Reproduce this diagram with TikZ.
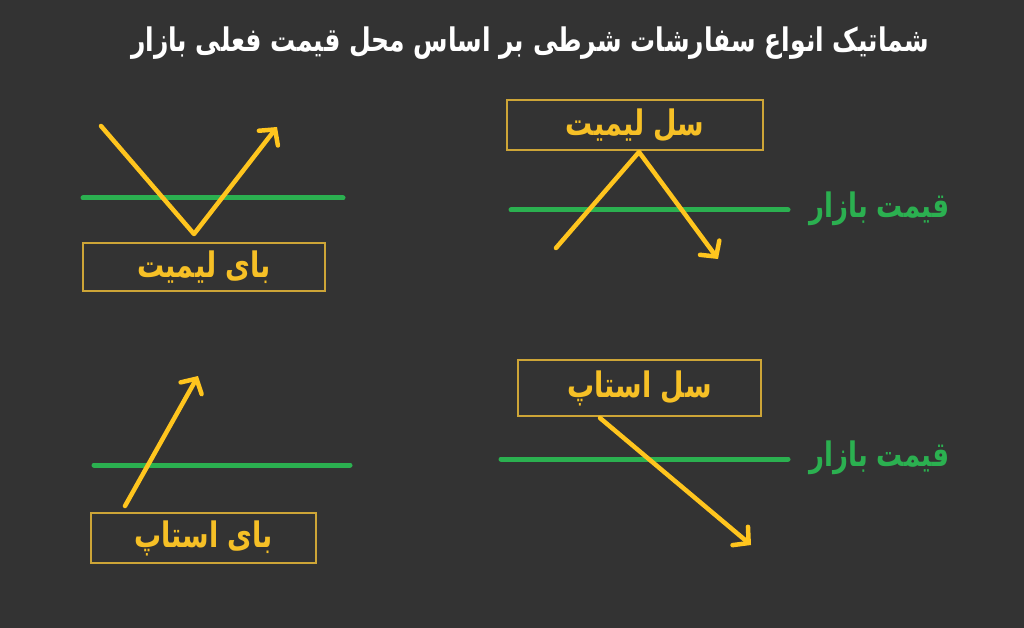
\documentclass[tikz,border=0pt]{standalone}
\usepackage{fontspec}
\usepackage{graphicx}
\usetikzlibrary{arrows.meta}
\TeXXeTstate=1
\newfontfamily\arabicfont[Script=Arabic]{DejaVu Sans}
\definecolor{bgc}{RGB}{51,51,51}
\definecolor{arrowy}{RGB}{255,197,30}
\definecolor{texty}{RGB}{246,192,38}
\definecolor{boxy}{RGB}{205,165,55}
\definecolor{greenl}{RGB}{43,176,80}
\newcommand{\tallR}[1]{\scalebox{1}[1.3]{\beginR #1\endR}}
\tikzset{
  pricel/.style={draw=greenl, line width=5pt, line cap=round},
  movel/.style={draw=arrowy, line width=4.5pt, line cap=round, line join=round},
  movea/.style={movel, -{Straight Barb[length=11pt,width=24pt,line cap=round]}},
  orderbox/.style={draw=boxy, line width=1.4pt, inner sep=0pt, font=\arabicfont\bfseries\fontsize{27}{32}\selectfont, text=texty},
  pricetext/.style={font=\arabicfont\bfseries\fontsize{26}{30}\selectfont, text=greenl},
}
\begin{document}
\begin{tikzpicture}[x=1pt,y=-1pt]
\fill[bgc] (0,0) rectangle (1024,628);
\useasboundingbox (0,0) rectangle (1024,628);
\node[font=\arabicfont\bfseries\fontsize{25}{30}\selectfont, text=white] (title) at (530,43) {\tallR{شماتیک انواع سفارشات شرطی بر اساس محل قیمت فعلی بازار}};
% top-left: buy limit
\draw[pricel] (83,198) coordinate (g1a) -- (343,198) coordinate (g1b);
\node[orderbox, minimum width=242pt, minimum height=48pt] (bl) at (204,267) {\tallR{بای لیمیت}};
\coordinate (bl1) at (101,126);
\coordinate (bl2) at (194,234);
\coordinate (bl3) at (277,127);
\draw[movea] (bl1) -- (bl2) -- (bl3);
% top-right: sell limit
\draw[pricel] (511,210) coordinate (g2a) -- (788,210) coordinate (g2b);
\node[pricetext, anchor=west] (p2) at (806,209) {\tallR{قیمت بازار}};
\node[orderbox, minimum width=256pt, minimum height=50pt] (sl) at (635,125) {\tallR{سل لیمیت}};
\coordinate (sl1) at (556,248);
\coordinate (sl2) at (639,152);
\coordinate (sl3) at (718,259);
\draw[movea] (sl1) -- (sl2) -- (sl3);
% bottom-left: buy stop
\draw[pricel] (94,465) coordinate (g3a) -- (350,465) coordinate (g3b);
\node[orderbox, minimum width=225pt, minimum height=50pt] (bs) at (203.5,538) {\tallR{بای استاپ}};
\coordinate (bs1) at (125,506);
\coordinate (bs2) at (198,376);
\draw[movea] (bs1) -- (bs2);
% bottom-right: sell stop
\draw[pricel] (501,459) coordinate (g4a) -- (788,459) coordinate (g4b);
\node[pricetext, anchor=west] (p4) at (806,458) {\tallR{قیمت بازار}};
\node[orderbox, minimum width=243pt, minimum height=56pt] (ss) at (639.5,388) {\tallR{سل استاپ}};
\coordinate (ss1) at (600,418);
\coordinate (ss2) at (751,545);
\draw[movea] (ss1) -- (ss2);
\end{tikzpicture}
\end{document}
